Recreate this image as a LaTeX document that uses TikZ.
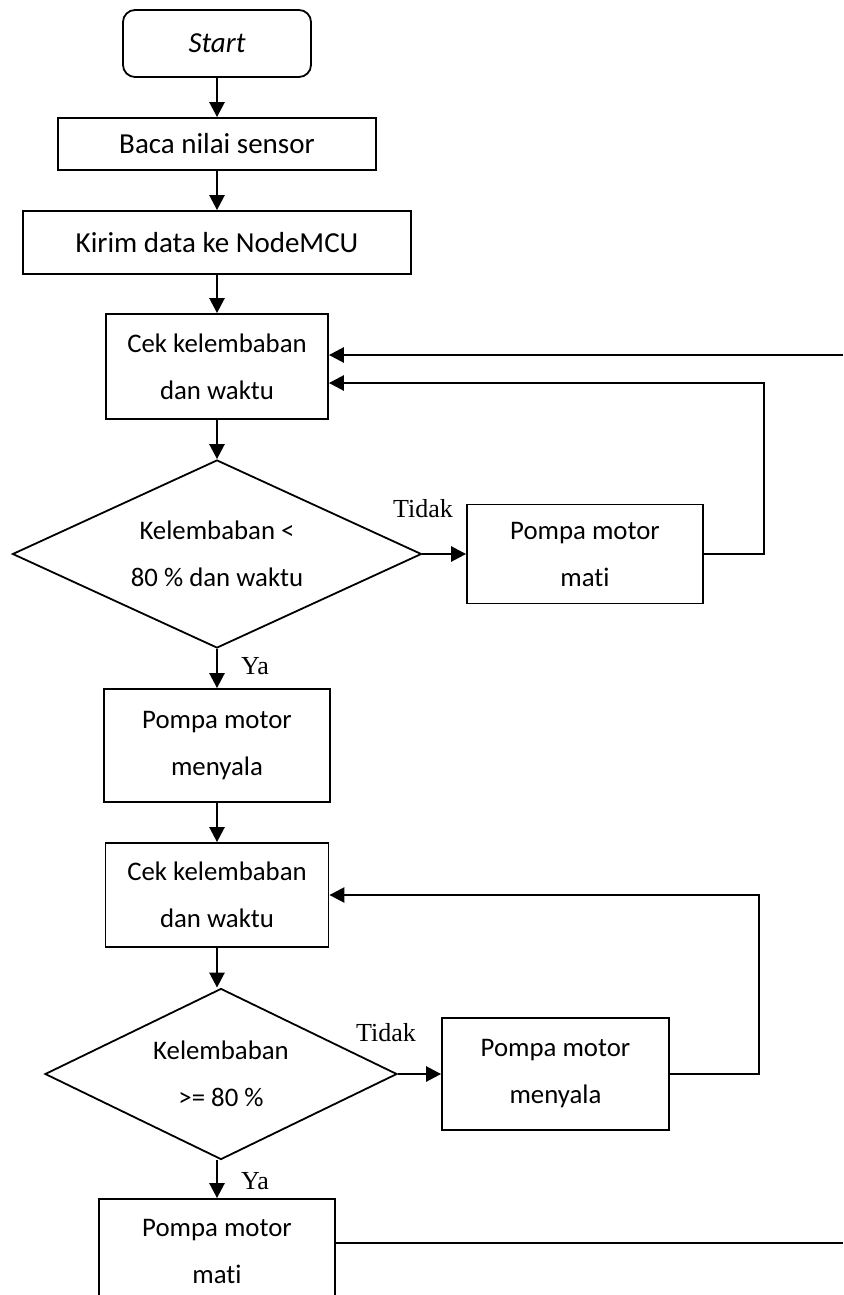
\documentclass[tikz,border=0pt]{standalone}
\usepackage{fontspec}
\setmainfont{Carlito}[Ligatures=NoCommon]
\newfontfamily\branchfont{Liberation Serif}
\usetikzlibrary{shapes.geometric,arrows.meta}

\tikzset{
  process/.style={draw, line width=1.8pt, align=center, inner sep=0pt,
    font=\fontsize{26.8}{47}\selectfont},
  oneline/.style={process, font=\fontsize{29}{34}\selectfont},
  terminal/.style={oneline, rounded corners=12pt},
  decision/.style={process, diamond},
  flow/.style={line width=2.6pt, -{Triangle[length=15pt,width=15pt]}},
  branch/.style={font=\branchfont\fontsize{26}{28}\selectfont, inner sep=0pt}
}

\begin{document}
\begin{tikzpicture}[x=1pt, y=-1pt]
  \useasboundingbox (0,0) rectangle (843,1295);
  \clip (0,0) rectangle (843,1295);

  % main column
  \node[terminal, minimum width=188pt, minimum height=67pt] (start) at (217,43.5) {\itshape Start};
  \node[oneline, minimum width=318pt, minimum height=52pt] (baca) at (217,144) {Baca nilai sensor};
  \node[oneline, minimum width=388pt, minimum height=63pt] (kirim) at (217,242.5) {Kirim data ke NodeMCU};
  \node[process, minimum width=222pt, minimum height=105pt] (cek1) at (217,366.5) {Cek kelembaban\\dan waktu};
  \node[decision, minimum width=409pt, minimum height=188pt, aspect=2.18] (dec1) at (217,554)
    {Kelembaban <\\80 \% dan waktu};
  \node[process, minimum width=236pt, minimum height=99pt] (mati1) at (585,554) {Pompa motor\\mati};
  \node[process, minimum width=226pt, minimum height=113pt] (nyala1) at (217,745.5) {Pompa motor\\menyala};
  \node[process, minimum width=223pt, minimum height=104pt] (cek2) at (217,895) {Cek kelembaban\\dan waktu};
  \node[decision, minimum width=352pt, minimum height=171pt, aspect=2.06] (dec2) at (221,1074)
    {Kelembaban\\>= 80 \%};
  \node[process, minimum width=227pt, minimum height=112pt] (nyala2) at (555.5,1074) {Pompa motor\\menyala};
  \node[process, minimum width=236pt, minimum height=104pt] (mati2) at (217,1251) {Pompa motor\\mati};

  \node[branch] (tidak1) at (423,509) {Tidak};
  \node[branch] (ya1) at (255,666) {Ya};
  \node[branch] (tidak2) at (386,1033) {Tidak};
  \node[branch] (ya2) at (255,1181) {Ya};

  \coordinate (entry) at (843,355);
  \coordinate (exit) at (843,1243);

  \draw[flow] (start) -- (baca);
  \draw[flow] (baca) -- (kirim);
  \draw[flow] (kirim) -- (cek1);
  \draw[flow] (cek1) -- (dec1);
  \draw[flow] (dec1) -- (mati1);
  \draw[flow] (dec1) -- (nyala1);
  \draw[flow] (nyala1) -- (cek2);
  \draw[flow] (cek2.south) -- (cek2.south |- dec2.north);
  \draw[flow] (dec2) -- (nyala2);
  \draw[flow] (cek2.south |- dec2.south) -- (mati2.north);

  % loops back to the checks
  \draw[flow] (mati1.east) -- ++(60,0) |- ([yshift=-16.5pt]cek1.east);
  \draw[flow] (entry) -- (entry -| cek1.east);
  \draw[flow] (nyala2.east) -- ++(89,0) |- (cek2.east);
  \draw[line width=1.8pt] (exit -| mati2.east) -- (exit);
\end{tikzpicture}
\end{document}
